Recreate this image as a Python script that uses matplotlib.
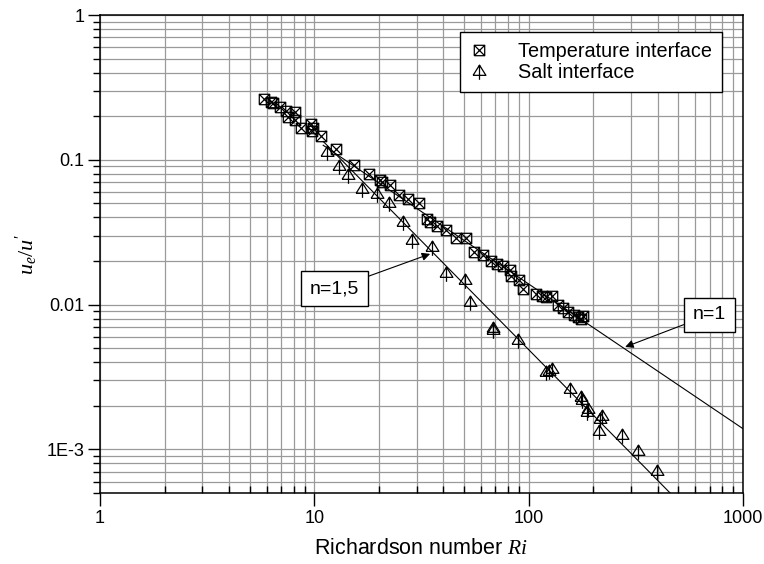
import matplotlib.pyplot as plt
from matplotlib.path import Path
from matplotlib.ticker import FixedLocator, LogLocator, NullFormatter

plt.rcParams['font.family'] = ['Liberation Sans', 'DejaVu Sans']
plt.rcParams['mathtext.fontset'] = 'custom'
plt.rcParams['mathtext.it'] = 'Liberation Serif:italic'
plt.rcParams['mathtext.rm'] = 'Liberation Serif'

# --- data ---
temp_ri = [5.8, 6.3, 6.4, 6.9, 7.4, 8.1, 7.5, 8.1, 8.7, 9.7, 9.9, 9.8, 10.8, 12.6,
           15.3, 17.9, 20.3, 20.7, 22.6, 24.7, 27.5, 30.9, 33.7, 34.6, 37.2, 41.2,
           45.8, 51.0, 55.4, 60.9, 66.8, 71.5, 75.7, 81.9, 83.1, 90.5, 93.8, 108,
           115, 121, 128, 137, 145, 153, 162, 169, 176, 180]
temp_u = [0.262, 0.252, 0.246, 0.231, 0.216, 0.213, 0.199, 0.187, 0.166, 0.177, 0.166,
          0.157, 0.146, 0.119, 0.092, 0.080, 0.073, 0.070, 0.067, 0.057, 0.054, 0.050,
          0.039, 0.037, 0.035, 0.033, 0.029, 0.029, 0.023, 0.022, 0.020, 0.019, 0.0184,
          0.0173, 0.0157, 0.0147, 0.0128, 0.0119, 0.0114, 0.0113, 0.0114, 0.0099,
          0.0095, 0.0089, 0.0085, 0.0082, 0.0080, 0.0084]

salt_ri = [11.4, 13.1, 14.3, 16.6, 19.7, 22.4, 26.0, 28.5, 35.3, 41.2, 50.5, 53.3,
           67.9, 68.5, 89.5, 121, 124, 128, 156, 175, 178, 188, 190, 214, 216, 221,
           272, 323, 399]
salt_u = [0.114, 0.091, 0.079, 0.063, 0.058, 0.050, 0.037, 0.028, 0.025, 0.0166,
          0.0149, 0.0105, 0.0067, 0.0069, 0.0057, 0.0034, 0.0035, 0.0036, 0.0026,
          0.0023, 0.0022, 0.0018, 0.0019, 0.00134, 0.00163, 0.0017, 0.00126,
          0.00098, 0.00071]

# fitted power laws (end points)
n1_ri = [11, 1000]
n1_u = [0.126, 0.00139]
n15_ri = [11, 457]
n15_u = [0.134, 0.0005]

xticks = [1, 10, 100, 1000]
xlabels = ['1', '10', '100', '1000']
yticks = [1e-3, 1e-2, 1e-1, 1]
ylabels = ['1E-3', '0.01', '0.1', '1']

# custom markers: boxed cross and triangle with stem
sq_x = Path([(-1, -1), (1, -1), (1, 1), (-1, 1), (-1, -1), (-1, -1), (1, 1), (-1, 1), (1, -1)],
            [1, 2, 2, 2, 2, 1, 2, 1, 2])
tri_stem = Path([(-1, -0.6), (1, -0.6), (0, 1), (-1, -0.6), (0, 1), (0, -1.3)],
                [1, 2, 2, 2, 1, 2])

fig = plt.figure(figsize=(7.64, 5.64), dpi=100)
ax = fig.add_axes([0.1309, 0.1259, 0.8416, 0.8475])

ax.plot(temp_ri, temp_u, linestyle='none', marker=sq_x, markersize=7.5,
        markerfacecolor='none', markeredgecolor='black', markeredgewidth=0.9,
        label='Temperature interface', zorder=3)
ax.plot(salt_ri, salt_u, linestyle='none', marker=tri_stem, markersize=12,
        markerfacecolor='none', markeredgecolor='black', markeredgewidth=0.9,
        label='Salt interface', zorder=3)
ax.plot(n1_ri, n1_u, color='black', lw=0.8, zorder=2)
ax.plot(n15_ri, n15_u, color='black', lw=0.8, zorder=2)

ax.set_xscale('log')
ax.set_yscale('log')
ax.set_xlim(1, 1000)
ax.set_ylim(5e-4, 1)

ax.xaxis.set_major_locator(FixedLocator(xticks))
ax.set_xticklabels(xlabels)
ax.yaxis.set_major_locator(FixedLocator(yticks))
ax.set_yticklabels(ylabels)
ax.xaxis.set_minor_locator(LogLocator(base=10, subs=range(2, 10)))
ax.yaxis.set_minor_locator(LogLocator(base=10, subs=range(2, 10)))
ax.xaxis.set_minor_formatter(NullFormatter())
ax.yaxis.set_minor_formatter(NullFormatter())

ax.tick_params(axis='both', which='major', labelsize=13, direction='out',
               length=9, width=1, color='black')
ax.tick_params(axis='y', which='minor', direction='out', length=5, width=1)
ax.tick_params(axis='x', which='minor', direction='in', length=5, width=1)
ax.tick_params(axis='y', which='major', pad=2)

ax.grid(True, which='both', color='#9a9a9a', linewidth=0.9)
ax.set_axisbelow(True)
for s in ax.spines.values():
    s.set_linewidth(1.1)
    s.set_color('black')

ax.set_xlabel('Richardson number $Ri$', fontsize=15.5, labelpad=8)
ax.set_ylabel("$u_e/u'$", fontsize=16, labelpad=5)

leg = ax.legend(loc='upper right', bbox_to_anchor=(0.967, 0.964), borderaxespad=0,
                fontsize=14.3, fancybox=False, framealpha=1, edgecolor='black',
                handlelength=0.85, handletextpad=1.55, labelspacing=0.1, borderpad=0.5)
leg.get_frame().set_linewidth(1)

box = dict(boxstyle='square,pad=0.45', facecolor='white', edgecolor='black', lw=1)
ax.annotate('n=1,5', xy=(34.7, 0.0224), xytext=(12.4, 0.0129), fontsize=14,
            ha='center', va='center', bbox=box,
            arrowprops=dict(arrowstyle='-|>', color='black', lw=0.8,
                            shrinkA=0, shrinkB=0, mutation_scale=12))
ax.annotate('n=1', xy=(282, 0.0051), xytext=(698, 0.0085), fontsize=14,
            ha='center', va='center', bbox=box,
            arrowprops=dict(arrowstyle='-|>', color='black', lw=0.8,
                            shrinkA=0, shrinkB=0, mutation_scale=12))

plt.savefig('out.png', dpi=100)
